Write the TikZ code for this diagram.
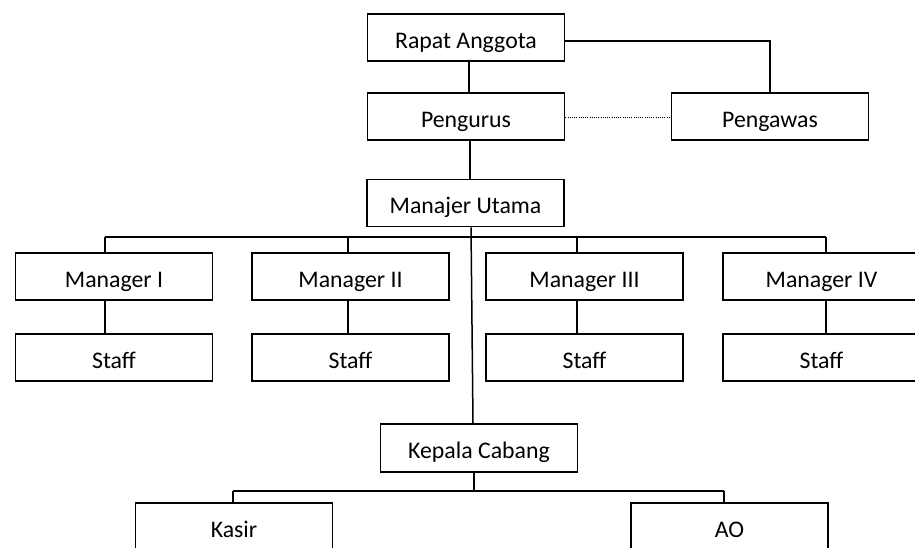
\documentclass[tikz,border=0pt]{standalone}
\usepackage{fontspec}
\setmainfont{Carlito}
\begin{document}
\begin{tikzpicture}[x=1pt,y=-1pt,
  box/.style={draw=black, line width=1.6pt, fill=white, minimum width=197pt, minimum height=47pt,
    inner sep=0pt, font=\fontsize{23.8}{28}\selectfont, text height=21pt, text depth=0pt},
  link/.style={draw=black, line width=1.5pt},
  dotlink/.style={draw=black, line width=1pt, dash pattern=on 1pt off 1.2pt}]
\useasboundingbox (0,0) rectangle (915,547);
\clip (0,0) rectangle (915,547);
% nodes
\node[box] (ra) at (466,37.5) {Rapat Anggota};
\node[box] (pg) at (466,116.5) {Pengurus};
\node[box] (pw) at (770,116.5) {Pengawas};
\node[box] (mu) at (465.5,203) {Manajer Utama};
\node[box] (m1) at (114,276.5) {Manager I};
\node[box] (m2) at (350.5,276.5) {Manager II};
\node[box] (m3) at (584.5,276.5) {Manager III};
\node[box] (m4) at (821.5,276.5) {Manager IV};
\node[box] (s1) at (114,357.5) {Staff};
\node[box] (s2) at (350.5,357.5) {Staff};
\node[box] (s3) at (584.5,357.5) {Staff};
\node[box] (s4) at (821.5,357.5) {Staff};
\node[box, minimum height=48pt] (kc) at (479,448) {Kepala Cabang};
\node[box, minimum height=48pt] (ks) at (234,527) {Kasir};
\node[box, minimum height=48pt] (ao) at (729.5,527) {AO};
% coordinates
\coordinate (d1) at (105,237);
\coordinate (d2) at (348,237);
\coordinate (d3) at (577,237);
\coordinate (d4) at (826,237);
\coordinate (k1) at (233,491);
\coordinate (k2) at (724,491);
\coordinate (kt) at (474,491);
\coordinate (rp) at (770,41);
% connectors top
\draw[link] (ra.south -| 469,0) -- (pg.north -| 469,0);
\draw[link] (ra.east |- rp) -- (rp) -- (pw.north);
\draw[dotlink] (pg.east |- 0,117) -- (pw.west |- 0,117);
\draw[link] (pg.south -| 470,0) -- (mu.north -| 470,0);
% manajer to kepala cabang
\draw[link] (mu.south -| 471,0) -- (kc.north -| 473,0);
% bus
\draw[link] (d1) -- (d4);
\foreach \d/\m/\s in {d1/m1/s1, d2/m2/s2, d3/m3/s3, d4/m4/s4}{
  \draw[link] (\d) -- (\d |- \m.north);
  \draw[link] (\d |- \m.south) -- (\d |- \s.north);
}
% kepala cabang bus
\draw[link] (kc.south -| kt) -- (kt);
\draw[link] (k1) -- (k2);
\draw[link] (k1) -- (k1 |- ks.north);
\draw[link] (k2) -- (k2 |- ao.north);
\end{tikzpicture}
\end{document}
